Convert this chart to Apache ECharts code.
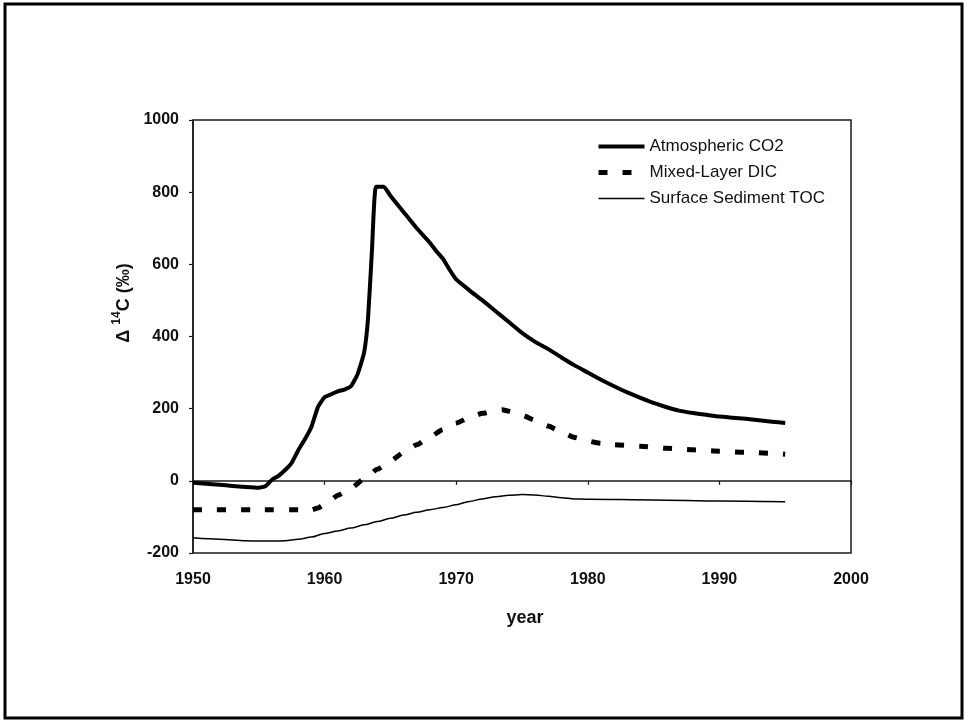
<!DOCTYPE html>
<html>
<head>
<meta charset="utf-8">
<script src="https://cdn.jsdelivr.net/npm/echarts@6/dist/echarts.min.js"></script>
<style>
  html, body { margin: 0; padding: 0; background: #fff; }
  #chart { width: 964px; height: 721px; }
</style>
</head>
<body>
<div id="chart"></div>
<script>
// Atmospheric CO2 Δ14C (‰)
var co2Years = [1950, 1951, 1952, 1953, 1954, 1955, 1955.5, 1956, 1956.5, 1957, 1957.5, 1958, 1958.5, 1959, 1959.5, 1960, 1960.5, 1961, 1961.5, 1962, 1962.5, 1963, 1963.3, 1963.6, 1963.9, 1964.5, 1965, 1966, 1967, 1968, 1968.5, 1969, 1969.5, 1970, 1971, 1972, 1973, 1974, 1975, 1976, 1977, 1978, 1979, 1980, 1981, 1982, 1983, 1984, 1985, 1986, 1987, 1988, 1989, 1990, 1991, 1992, 1993, 1994, 1995];
var co2Values = [-5, -8, -11, -14, -17, -19, -15, 3, 14, 30, 50, 85, 115, 150, 205, 232, 240, 248, 253, 262, 295, 355, 450, 640, 815, 815, 790, 745, 700, 660, 636, 615, 585, 558, 528, 500, 470, 440, 410, 385, 365, 342, 320, 300, 280, 262, 245, 230, 216, 204, 194, 188, 183, 178, 175, 172, 168, 164, 160];

// Mixed-layer DIC Δ14C (‰)
var dicYears = [1950, 1955, 1959, 1959.5, 1960, 1960.5, 1961, 1962, 1963, 1964, 1965, 1966, 1967, 1968, 1969, 1970, 1971, 1972, 1973, 1973.5, 1974, 1975, 1976, 1977, 1978, 1979, 1980, 1981, 1982, 1984, 1986, 1988, 1990, 1992, 1994, 1995];
var dicValues = [-80, -80, -80, -75, -65, -52, -40, -20, 5, 32, 55, 78, 100, 122, 142, 160, 175, 187, 195, 197, 193, 182, 168, 152, 135, 120, 110, 104, 100, 96, 90, 86, 82, 79, 76, 74];

// Surface sediment TOC Δ14C (‰)
var tocYears = [1950, 1952, 1954, 1955, 1956, 1957, 1958, 1959, 1960, 1961, 1962, 1963, 1964, 1965, 1966, 1967, 1968, 1969, 1970, 1971, 1972, 1973, 1974, 1975, 1976, 1977, 1978, 1979, 1980, 1985, 1990, 1995];
var tocValues = [-158, -162, -166, -167, -167, -166, -162, -156, -146, -139, -131, -122, -113, -104, -95, -87, -80, -74, -66, -57, -50, -44, -40, -38, -39, -43, -47, -50, -51, -53, -56, -58];

var seriesNames = ['Atmospheric CO2', 'Mixed-Layer DIC', 'Surface Sediment TOC'];
var xTicks = { min: 1950, max: 2000, step: 10 };
var yTicks = { min: -200, max: 1000, step: 200 };

function pairs(xs, ys) {
  return xs.map(function (x, i) { return [x, ys[i]]; });
}
function plain(v) { return String(v); }

var FONT = '"Liberation Sans", Arial, Helvetica, sans-serif';
var chart = echarts.init(document.getElementById('chart'), null, { renderer: 'canvas' });

chart.setOption({
  backgroundColor: '#ffffff',
  animation: false,
  grid: {
    left: 193, right: 113, top: 120, bottom: 168,
    show: true, borderColor: '#1a1a1a', borderWidth: 1.5
  },
  legend: {
    orient: 'vertical',
    left: 591, top: 133,
    itemWidth: 46, itemHeight: 14, itemGap: 9,
    data: seriesNames,
    itemStyle: { opacity: 0 },
    lineStyle: { width: 'inherit' },
    textStyle: { fontFamily: FONT, fontSize: 17, color: '#111', lineHeight: 17 }
  },
  xAxis: {
    type: 'value',
    min: xTicks.min, max: xTicks.max, interval: xTicks.step,
    splitLine: { show: false },
    axisLine: { show: true, lineStyle: { color: '#1a1a1a', width: 1.5 } },
    axisTick: { show: true, length: 4, lineStyle: { color: '#1a1a1a', width: 1.2 } },
    axisLabel: { formatter: plain, fontFamily: FONT, fontSize: 16, fontWeight: 'bold', color: '#111', margin: 19 }
  },
  yAxis: {
    type: 'value',
    min: yTicks.min, max: yTicks.max, interval: yTicks.step,
    splitLine: { show: false },
    axisLine: { show: true, lineStyle: { color: '#1a1a1a', width: 1.5 } },
    axisTick: { show: true, length: 4, lineStyle: { color: '#1a1a1a', width: 1.2 } },
    axisLabel: { formatter: plain, fontFamily: FONT, fontSize: 16, fontWeight: 'bold', color: '#111', margin: 14 }
  },
  graphic: [
    {
      type: 'rect',
      shape: { x: 5, y: 4, width: 957, height: 714 },
      style: { fill: 'none', stroke: '#000', lineWidth: 3 },
      silent: true
    },
    {
      type: 'text',
      x: 525, y: 618,
      style: {
        text: 'year', fontFamily: FONT, fontSize: 18, fontWeight: 'bold',
        fill: '#111', align: 'center', verticalAlign: 'middle'
      }
    },
    {
      type: 'text',
      x: 122, y: 303,
      rotation: Math.PI / 2,
      style: {
        text: '{a|Δ }{s|14}{a|C (‰)}',
        align: 'center', verticalAlign: 'middle',
        rich: {
          a: { fontFamily: FONT, fontSize: 18, fontWeight: 'bold', fill: '#111', color: '#111', verticalAlign: 'bottom', lineHeight: 22 },
          s: { fontFamily: FONT, fontSize: 12, fontWeight: 'bold', fill: '#111', color: '#111', verticalAlign: 'top', lineHeight: 22 }
        }
      }
    }
  ],
  series: [
    {
      name: seriesNames[0], type: 'line',
      data: pairs(co2Years, co2Values),
      showSymbol: false, symbol: 'none',
      smooth: 0.15,
      lineStyle: { color: '#000', width: 4, join: 'round' },
      itemStyle: { color: '#000' }
    },
    {
      name: seriesNames[1], type: 'line',
      data: pairs(dicYears, dicValues),
      showSymbol: false, symbol: 'none',
      smooth: 0.2, smoothMonotone: 'x',
      lineStyle: { color: '#000', width: 5, type: [9, 15], cap: 'butt' },
      itemStyle: { color: '#000' }
    },
    {
      name: seriesNames[2], type: 'line',
      data: pairs(tocYears, tocValues),
      showSymbol: false, symbol: 'none',
      smooth: 0.3, smoothMonotone: 'x',
      lineStyle: { color: '#000', width: 1.5 },
      itemStyle: { color: '#000' }
    }
  ]
});
</script>
</body>
</html>
